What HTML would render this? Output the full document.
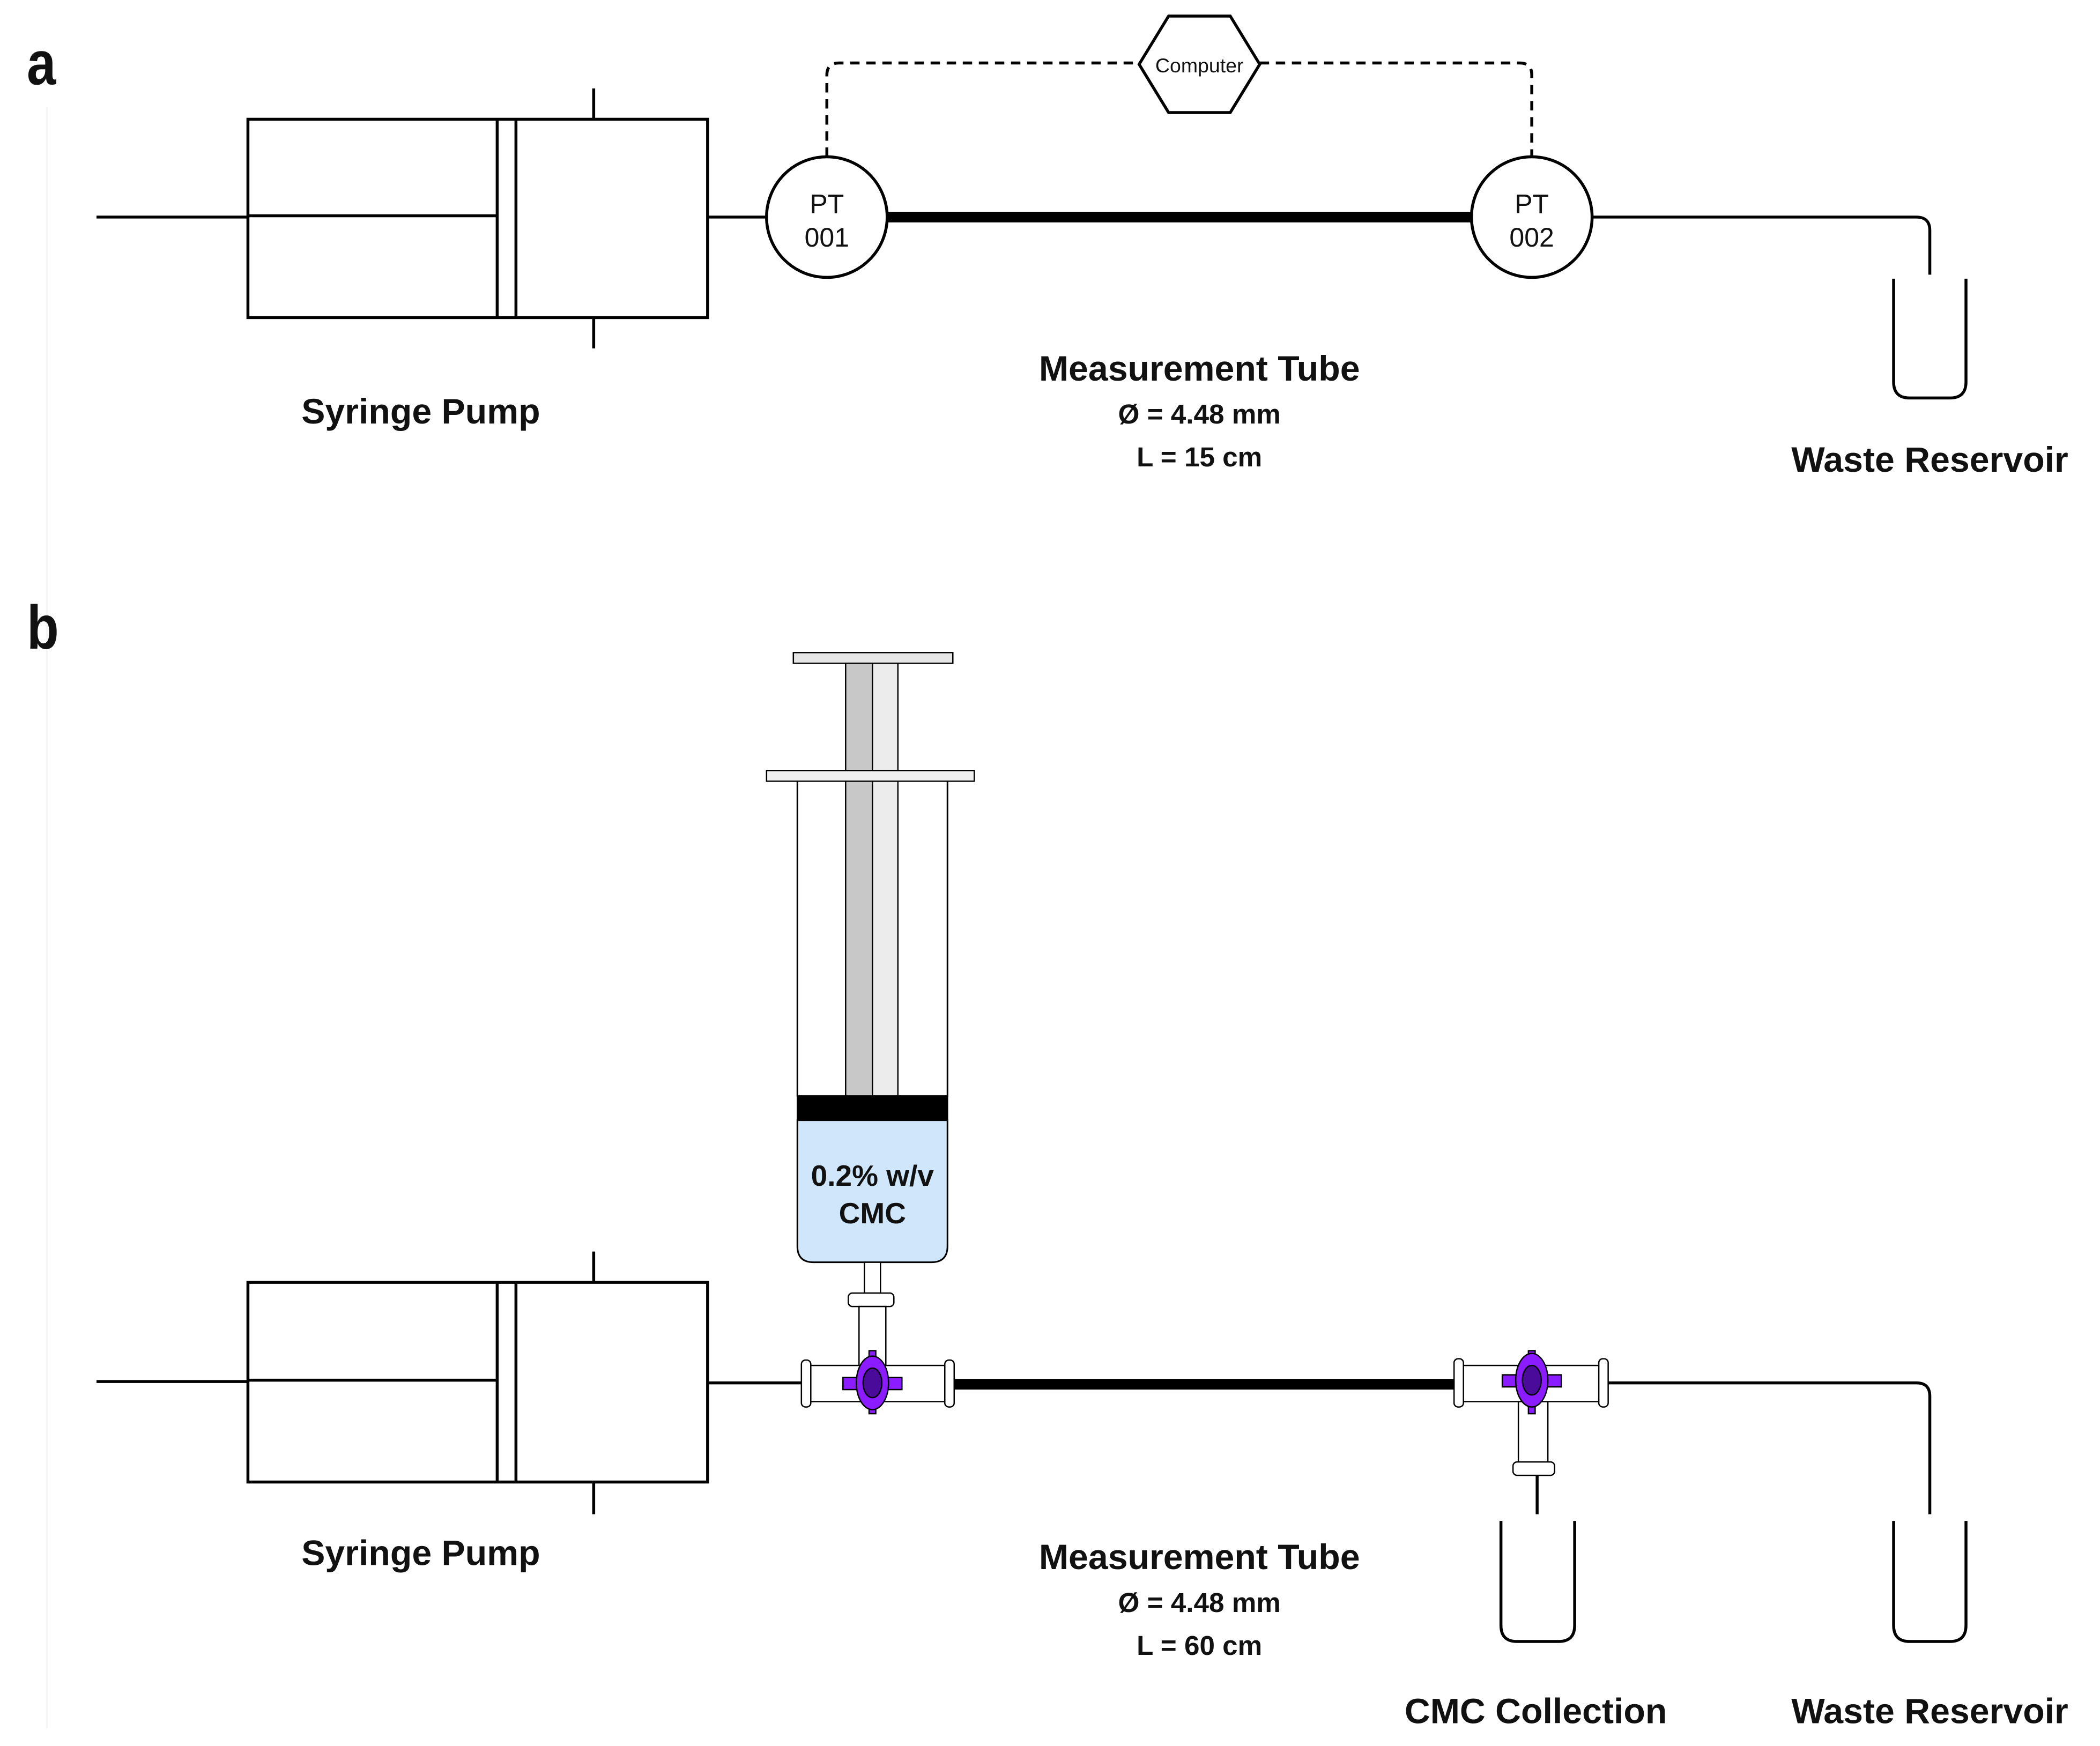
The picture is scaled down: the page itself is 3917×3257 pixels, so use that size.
<!DOCTYPE html>
<html><head><meta charset="utf-8"><style>
html,body{margin:0;padding:0;background:#fff;}
svg{display:block;}
text{font-family:"Liberation Sans",Arial,sans-serif;}
.b{font-weight:bold;fill:#111;}
</style></head><body>
<svg width="3917" height="3257" viewBox="0 0 1567 1303" preserveAspectRatio="none" xmlns="http://www.w3.org/2000/svg">
<rect width="1567" height="1303" fill="#fff"/>
<line x1="35" y1="80" x2="35" y2="1290" stroke="#f2f2f2" stroke-width="1"/>
<text x="20" y="63" font-size="46" class="b" transform="translate(20 0) scale(0.85 1) translate(-20 0)">a</text>
<text x="20" y="484" font-size="46" class="b" transform="translate(20 0) scale(0.85 1) translate(-20 0)">b</text>

<g fill="none" stroke="#000" stroke-width="2.2">
<line x1="72" y1="162" x2="185" y2="162"/>
<rect x="185" y="89" width="343" height="148" fill="#fff"/>
<line x1="185" y1="161" x2="371" y2="161"/>
<line x1="371" y1="89" x2="371" y2="237"/>
<line x1="385" y1="89" x2="385" y2="237"/>
<line x1="443" y1="66" x2="443" y2="89"/>
<line x1="443" y1="237" x2="443" y2="260"/>
<line x1="528" y1="162" x2="573" y2="162"/>
<line x1="662" y1="162" x2="1098" y2="162" stroke-width="8"/>
<path d="M1188 162 H1430 Q1440 162 1440 172 V205"/>
<path d="M1413 208 V285 Q1413 297 1425 297 H1455 Q1467 297 1467 285 V208"/>
<path d="M617 117 V56 Q617 47 626 47 H850 M940 47 H1134 Q1143 47 1143 56 V117" stroke-dasharray="7,5"/>
<polygon points="850,48 872,12 918,12 940,48 918,84 872,84" fill="#fff"/>
<circle cx="617" cy="162" r="45" fill="#fff"/>
<circle cx="1143" cy="162" r="45" fill="#fff"/>
</g>
<text x="895" y="54" font-size="15" text-anchor="middle" fill="#111">Computer</text>
<text x="617" y="159" font-size="20" text-anchor="middle" fill="#111">PT</text>
<text x="617" y="184" font-size="20" text-anchor="middle" fill="#111">001</text>
<text x="1143" y="159" font-size="20" text-anchor="middle" fill="#111">PT</text>
<text x="1143" y="184" font-size="20" text-anchor="middle" fill="#111">002</text>
<text x="314" y="316" font-size="26.5" text-anchor="middle" class="b">Syringe Pump</text>
<text x="895" y="284" font-size="26.5" text-anchor="middle" class="b">Measurement Tube</text>
<text x="895" y="316" font-size="20.5" text-anchor="middle" class="b">Ø = 4.48 mm</text>
<text x="895" y="348" font-size="20.5" text-anchor="middle" class="b">L = 15 cm</text>
<text x="1440" y="352" font-size="26.5" text-anchor="middle" class="b">Waste Reservoir</text>

<g fill="none" stroke="#000" stroke-width="2.2">
<line x1="72" y1="1031" x2="185" y2="1031"/>
<rect x="185" y="957" width="343" height="149" fill="#fff"/>
<line x1="185" y1="1030" x2="371" y2="1030"/>
<line x1="371" y1="957" x2="371" y2="1106"/>
<line x1="385" y1="957" x2="385" y2="1106"/>
<line x1="443" y1="934" x2="443" y2="957"/>
<line x1="443" y1="1106" x2="443" y2="1130"/>
<line x1="528" y1="1032" x2="598" y2="1032"/>
<line x1="711" y1="1033" x2="1087" y2="1033" stroke-width="8"/>
<path d="M1199 1032 H1430 Q1440 1032 1440 1042 V1130"/>
<line x1="1147" y1="1100" x2="1147" y2="1130"/>
<path d="M1120 1135 V1213 Q1120 1225 1132 1225 H1163 Q1175 1225 1175 1213 V1135"/>
<path d="M1413 1135 V1213 Q1413 1225 1425 1225 H1455 Q1467 1225 1467 1213 V1135"/>
</g>

<g stroke="#000" stroke-width="1">
<rect x="592" y="487" width="119" height="8" fill="#e6e6e6"/>
<rect x="631" y="495" width="20" height="325" fill="#c8c8c8"/>
<rect x="651" y="495" width="19" height="325" fill="#ececec"/>
<rect x="572" y="575" width="155" height="8" fill="#f0f0f0"/>
<path d="M595 583 V818 H707 V583" fill="none" stroke-width="1.2"/>
<path d="M595 836 H707 V930 Q707 942 695 942 H607 Q595 942 595 930 Z" fill="#cfe6fb" stroke-width="1.2"/>
<rect x="595" y="818" width="112" height="18" fill="#000"/>
<rect x="645" y="942" width="12" height="23" fill="#fff"/>
<rect x="633" y="965" width="34" height="10" rx="3" fill="#fff"/>
<rect x="641" y="975" width="20" height="44" fill="#fff"/>
<rect x="603" y="1019" width="105" height="27" fill="#fff"/>
<rect x="598" y="1015" width="7" height="35" rx="3" fill="#fff"/>
<rect x="705" y="1015" width="7" height="35" rx="3" fill="#fff"/>
<rect x="629" y="1028" width="44" height="9" fill="#8a1cff"/>
<rect x="648.5" y="1008" width="5" height="47" fill="#8a1cff"/>
<ellipse cx="651" cy="1032" rx="12" ry="20" fill="#8a1cff"/>
<ellipse cx="651" cy="1032" rx="7" ry="11" fill="#4a0a9a"/>
<rect x="1133" y="1046" width="22" height="46" fill="#fff"/>
<rect x="1129" y="1091" width="31" height="10" rx="3" fill="#fff"/>
<rect x="1090" y="1019" width="105" height="27" fill="#fff"/>
<rect x="1085" y="1014" width="7" height="36" rx="3" fill="#fff"/>
<rect x="1193" y="1014" width="7" height="36" rx="3" fill="#fff"/>
<rect x="1121" y="1026" width="44" height="9" fill="#8a1cff"/>
<rect x="1140.5" y="1008" width="5" height="47" fill="#8a1cff"/>
<ellipse cx="1143" cy="1030" rx="12" ry="20" fill="#8a1cff"/>
<ellipse cx="1143" cy="1030" rx="7" ry="11" fill="#4a0a9a"/>
</g>
<text x="651" y="885" font-size="22" text-anchor="middle" class="b">0.2% w/v</text>
<text x="651" y="913" font-size="22" text-anchor="middle" class="b">CMC</text>
<text x="314" y="1168" font-size="26.5" text-anchor="middle" class="b">Syringe Pump</text>
<text x="895" y="1171" font-size="26.5" text-anchor="middle" class="b">Measurement Tube</text>
<text x="895" y="1203" font-size="20.5" text-anchor="middle" class="b">Ø = 4.48 mm</text>
<text x="895" y="1235" font-size="20.5" text-anchor="middle" class="b">L = 60 cm</text>
<text x="1146" y="1286" font-size="26.5" text-anchor="middle" class="b">CMC Collection</text>
<text x="1440" y="1286" font-size="26.5" text-anchor="middle" class="b">Waste Reservoir</text>
</svg>
</body></html>
